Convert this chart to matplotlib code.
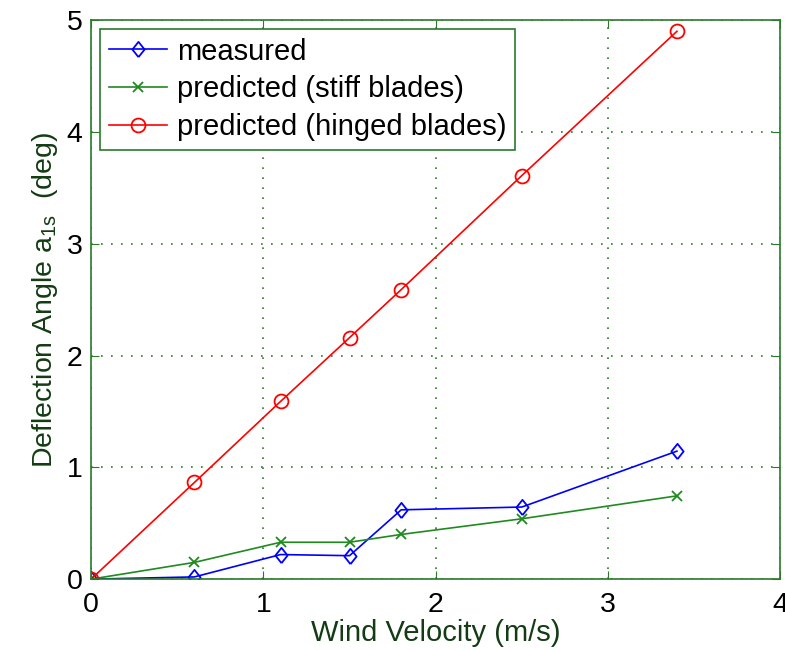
import matplotlib.pyplot as plt

plt.rcParams['font.family'] = ['Liberation Sans', 'DejaVu Sans']
plt.rcParams['mathtext.fontset'] = 'custom'
plt.rcParams['mathtext.rm'] = 'Liberation Sans'

# Datos
velocidad = [0, 0.6, 1.1, 1.5, 1.8, 2.5, 3.4]
medido = [0, 0.02, 0.22, 0.21, 0.62, 0.645, 1.145]
rigidas = [0, 0.15, 0.33, 0.33, 0.40, 0.54, 0.745]
articuladas = [0, 0.865, 1.59, 2.16, 2.59, 3.61, 4.90]

x_ticks = [0, 1, 2, 3, 4]
y_ticks = [0, 1, 2, 3, 4, 5]

verde = '#2a7a2a'
rombo = [(0, -1), (0.8, 0), (0, 1), (-0.8, 0), (0, -1)]

fig = plt.figure(figsize=(7.85, 6.5), dpi=100)
ax = fig.add_axes([0.116, 0.109, 0.878, 0.860])

ax.plot(velocidad, medido, color='blue', lw=1.2, marker=rombo, ms=11,
        mfc='none', mew=1.3, label='measured')
ax.plot(velocidad, rigidas, color='#1f8a1f', lw=1.2, marker='x', ms=6.5,
        mew=1.3, label='predicted (stiff blades)')
ax.plot(velocidad, articuladas, color='red', lw=1.2, marker='o', ms=10,
        mfc='none', mew=1.3, label='predicted (hinged blades)')

ax.set_xlim(0, 4)
ax.set_ylim(0, 5)
ax.set_xticks(x_ticks)
ax.set_yticks(y_ticks)
ax.grid(True, color=verde, linestyle=(0, (1, 5)), lw=1.2)

for s in ax.spines.values():
    s.set_color(verde)
    s.set_linewidth(1.2)
ax.tick_params(direction='in', length=6, color=verde, labelsize=20.5,
               labelcolor='black', top=True, right=True)
ax.tick_params(axis='x', pad=9)
ax.tick_params(axis='y', pad=6)

ax.set_xlabel('Wind Velocity (m/s)', fontsize=21, color='#143c14', labelpad=1)
ax.set_ylabel(r'Deflection Angle a$_{\mathregular{1s}}$  (deg)', fontsize=20.5,
              color='#143c14', labelpad=5)

leg = ax.legend(loc='upper left', fontsize=21, frameon=True, fancybox=False,
                handlelength=2.0, borderaxespad=0.3, labelspacing=0.33,
                handletextpad=0.35, borderpad=0.3)
leg.get_frame().set_edgecolor(verde)
leg.get_frame().set_linewidth(1.2)
leg.get_frame().set_alpha(1)

fig.savefig('out.png', dpi=100)
